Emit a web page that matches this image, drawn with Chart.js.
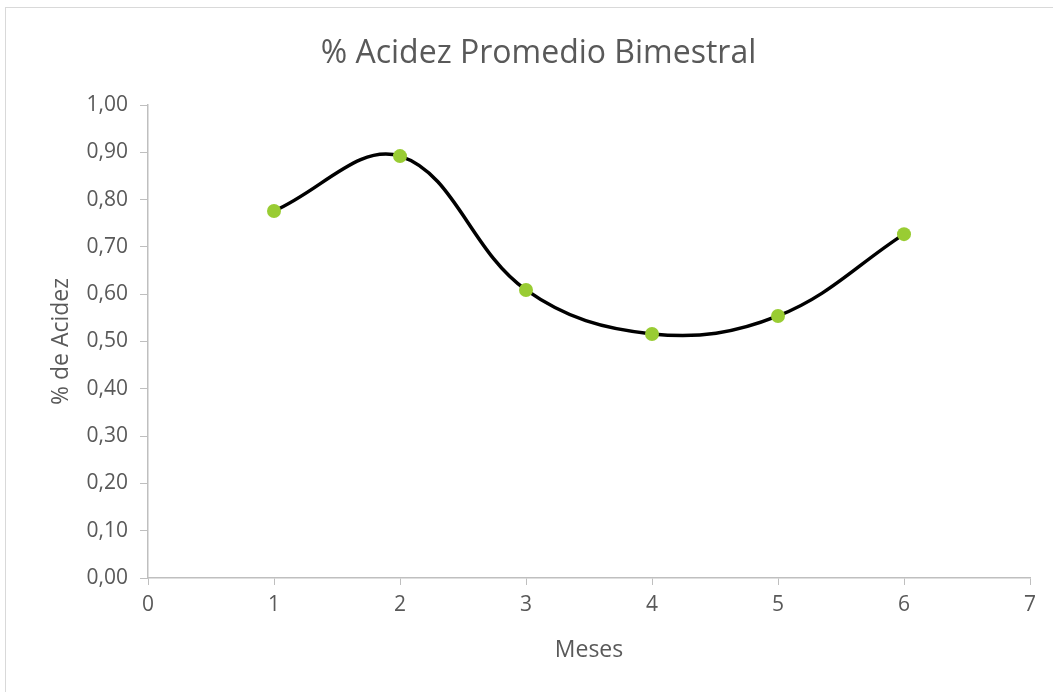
<!DOCTYPE html>
<html>
<head>
<meta charset="utf-8">
<script src="https://cdn.jsdelivr.net/npm/chart.js@4"></script>
<style>
html,body{margin:0;padding:0;background:#fff;}
#wrap{position:relative;width:1053px;height:692px;}
</style>
</head>
<body>
<div id="wrap"><canvas id="c"></canvas></div>
<script>
// Data
const months = [1, 2, 3, 4, 5, 6];
const acidity = [0.776, 0.892, 0.609, 0.516, 0.554, 0.727];
const xTicks = [0, 1, 2, 3, 4, 5, 6, 7];
const yTicks = [0, 0.1, 0.2, 0.3, 0.4, 0.5, 0.6, 0.7, 0.8, 0.9, 1.0];
const chartTitle = '% Acidez Promedio Bimestral';
const xTitle = 'Meses';
const yTitle = '% de Acidez';

const FONT = "'Open Sans', sans-serif";
const GREY = '#595959';
const AXIS = '#bfbfbf';

const borderPlugin = {
  id: 'outerBorder',
  beforeDraw(chart) {
    const ctx = chart.ctx;
    ctx.save();
    ctx.fillStyle = '#fff';
    ctx.fillRect(0, 0, chart.width, chart.height);
    ctx.strokeStyle = '#d9d9d9';
    ctx.lineWidth = 1;
    ctx.strokeRect(5.5, 7.5, chart.width + 20, chart.height + 20);
    ctx.restore();
  }
};

new Chart(document.getElementById('c'), {
  type: 'scatter',
  data: {
    datasets: [{
      data: months.map((m, i) => ({ x: m, y: acidity[i] })),
      showLine: true,
      borderColor: '#000',
      borderWidth: 3.5,
      tension: 0.38,
      pointRadius: 7,
      pointHoverRadius: 7,
      pointBackgroundColor: '#99cc33',
      pointBorderColor: '#99cc33',
      pointBorderWidth: 0,
      clip: false
    }]
  },
  options: {
    responsive: true,
    maintainAspectRatio: false,
    animation: false,
    events: [],
    layout: { padding: { left: 24, right: 0, top: 0, bottom: 0 } },
    plugins: {
      legend: { display: false },
      tooltip: { enabled: false },
      title: {
        display: true,
        text: chartTitle,
        color: GREY,
        font: { family: FONT, size: 32, weight: 'normal' },
        padding: { top: 35, bottom: 31.6 }
      }
    },
    scales: {
      x: {
        type: 'linear',
        min: 0, max: 7,
        afterBuildTicks(scale) { scale.ticks = xTicks.map(v => ({ value: v })); },
        afterFit(scale) { scale.height = 114; },
        ticks: {
          color: GREY,
          font: { family: FONT, size: 21 },
          padding: 7,
          callback: v => String(v)
        },
        grid: { drawOnChartArea: false, drawTicks: true, tickLength: 7, tickColor: AXIS, tickWidth: 1 },
        border: { color: AXIS, width: 1.5 },
        title: {
          display: true,
          text: xTitle,
          color: GREY,
          font: { family: FONT, size: 23 },
          padding: { top: 0, bottom: 28 }
        }
      },
      y: {
        type: 'linear',
        min: 0, max: 1,
        afterBuildTicks(scale) { scale.ticks = yTicks.map(v => ({ value: v })); },
        afterFit(scale) { scale.width = 124; },
        ticks: {
          color: GREY,
          font: { family: FONT, size: 21 },
          padding: 12,
          callback: v => Number(v).toFixed(2).replace('.', ',')
        },
        grid: { drawOnChartArea: false, drawTicks: true, tickLength: 8, tickColor: AXIS, tickWidth: 1 },
        border: { color: AXIS, width: 1.5 },
        title: {
          display: true,
          text: yTitle,
          color: GREY,
          font: { family: FONT, size: 23 },
          padding: { top: 24, bottom: 0 }
        }
      },
      yRightSpacer: {
        type: 'linear',
        position: 'right',
        display: true,
        afterFit(scale) { scale.width = 23; },
        ticks: { display: false },
        grid: { display: false, drawTicks: false },
        border: { display: false },
        title: { display: false }
      }
    }
  },
  plugins: [borderPlugin]
});
</script>
</body>
</html>
